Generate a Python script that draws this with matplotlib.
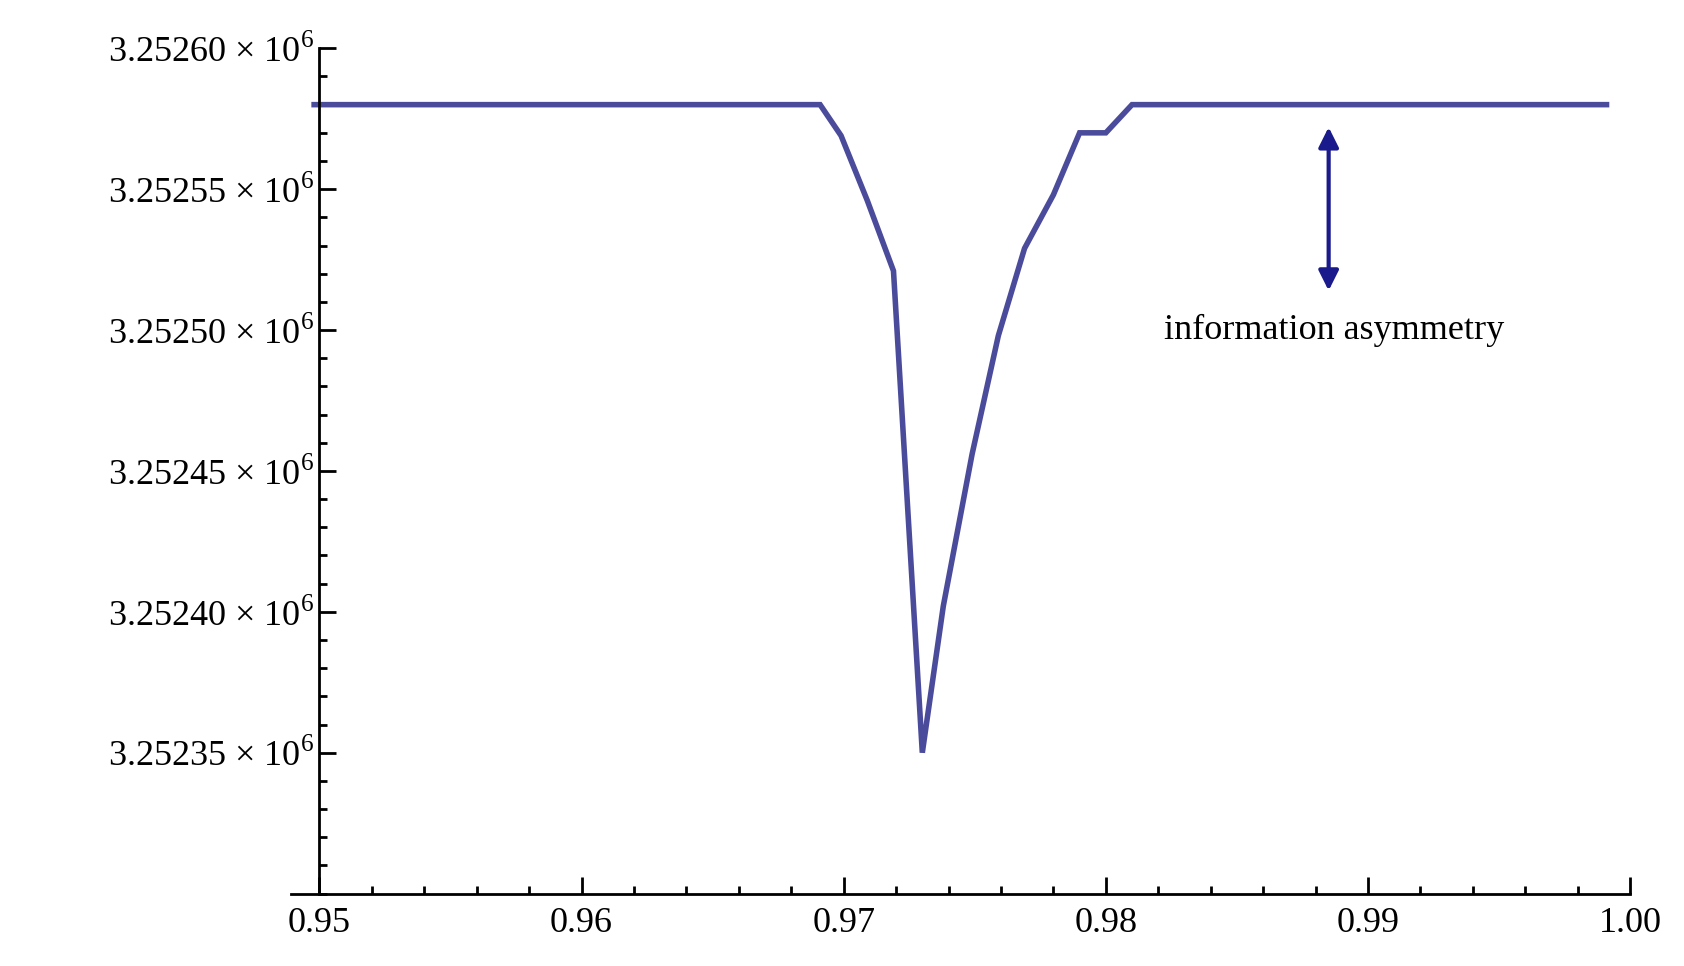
import matplotlib.pyplot as plt
from matplotlib.ticker import FixedLocator, FuncFormatter, MultipleLocator

plt.rcParams["font.family"] = ["Liberation Serif", "DejaVu Serif"]
plt.rcParams["mathtext.fontset"] = "custom"
plt.rcParams["mathtext.rm"] = "Liberation Serif"

# curve
x_vals = [0.9498, 0.9691, 0.9699, 0.9709, 0.9719, 0.9730, 0.9738, 0.9749,
          0.9759, 0.9769, 0.9780, 0.9790, 0.9800, 0.9810, 0.9991]
y_vals = [3252580, 3252580, 3252569, 3252546, 3252521, 3252350, 3252402,
          3252456, 3252498, 3252529, 3252548, 3252570, 3252570, 3252580, 3252580]

y_ticks = [3252350, 3252400, 3252450, 3252500, 3252550, 3252600]
x_ticks = [0.95, 0.96, 0.97, 0.98, 0.99, 1.00]


def ylab(v, pos):
    return r"%.5f $\times$ 10$^{\mathregular{6}}$" % (v / 1e6)


fig = plt.figure(figsize=(16.84, 9.66), dpi=100)
ax = fig.add_axes([0.173, 0.075, 0.795, 0.875])
ax.plot(x_vals, y_vals, color="#4b4b9b", lw=4, solid_joinstyle="miter")

ax.set_xlim(0.94893, 1.0)
ax.set_ylim(3252300, 3252600)
ax.spines["left"].set_position(("data", 0.95))
ax.spines["top"].set_visible(False)
ax.spines["right"].set_visible(False)
for s in ("left", "bottom"):
    ax.spines[s].set_linewidth(2)

ax.xaxis.set_major_locator(FixedLocator(x_ticks))
ax.xaxis.set_minor_locator(MultipleLocator(0.002))
ax.yaxis.set_major_locator(FixedLocator(y_ticks))
ax.yaxis.set_minor_locator(MultipleLocator(10))
ax.xaxis.set_major_formatter(FuncFormatter(lambda v, p: "%.2f" % v))
ax.yaxis.set_major_formatter(FuncFormatter(ylab))
ax.tick_params(which="both", direction="in", width=2, labelsize=26, colors="black")
ax.tick_params(which="major", length=12)
ax.tick_params(which="minor", length=6)
ax.tick_params(axis="x", pad=10)

ax.annotate("", xy=(0.9885, 3252513), xytext=(0.9885, 3252573),
            arrowprops=dict(arrowstyle="<|-|>", color="#1a1a8c", lw=3,
                            mutation_scale=30))
ax.text(0.9887, 3252500, "information asymmetry", ha="center", va="center",
        fontsize=26)

fig.savefig("out.png", dpi=100)
